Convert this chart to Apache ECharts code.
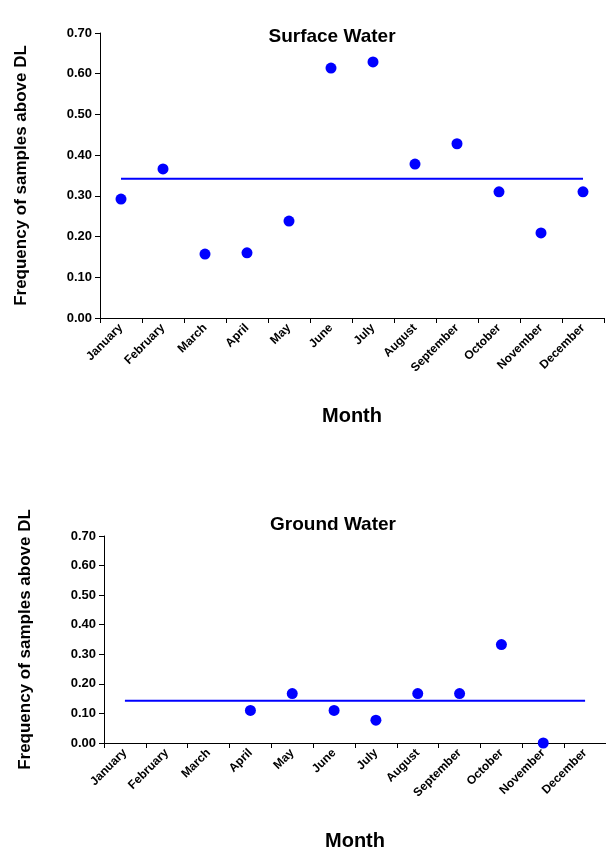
<!DOCTYPE html>
<html><head><meta charset="utf-8">
<script src="https://cdn.jsdelivr.net/npm/echarts@6/dist/echarts.min.js"></script>
<style>html,body{margin:0;padding:0;background:#fff}#c{width:606px;height:852px}</style>
</head><body><div id="c"></div>
<script>
const months = ["January","February","March","April","May","June","July","August","September","October","November","December"];
const surface = [0.292,0.366,0.157,0.160,0.238,0.614,0.629,0.378,0.428,0.310,0.209,0.310];
const surfaceMean = [0.342,0.342,0.342,0.342,0.342,0.342,0.342,0.342,0.342,0.342,0.342,0.342];
const ground = [null,null,null,0.11,0.167,0.11,0.077,0.167,0.167,0.333,0,null];
const groundMean = [0.143,0.143,0.143,0.143,0.143,0.143,0.143,0.143,0.143,0.143,0.143,0.143];
const F = 'Liberation Sans, Arial, sans-serif';
const chart = echarts.init(document.getElementById('c'));
function xa(i){return {type:'category',gridIndex:i,data:months,boundaryGap:true,
  axisLine:{lineStyle:{color:'#000',width:1}},axisTick:{show:true,alignWithLabel:false,lineStyle:{color:'#000'}},
  axisLabel:{rotate:45,interval:0,fontWeight:'bold',fontSize:12,color:'#000',fontFamily:F,margin:8},
  name:'Month',nameLocation:'middle',nameGap:88,nameTextStyle:{fontSize:20,fontWeight:'bold',color:'#000',fontFamily:F}};}
function ya(i){return {type:'value',gridIndex:i,min:0,max:0.7,interval:0.1,splitLine:{show:false},
  axisLine:{show:true,lineStyle:{color:'#000'}},axisTick:{show:true,lineStyle:{color:'#000'}},
  axisLabel:{formatter:v=>v.toFixed(2),fontSize:13,fontWeight:'bold',color:'#000',fontFamily:F},
  name:'Frequency of samples above DL',nameLocation:'middle',nameGap:70,
  nameTextStyle:{fontSize:17,fontWeight:'bold',color:'#000',fontFamily:F}};}
chart.setOption({
  animation:false,
  title:[{text:'Surface Water',left:327,top:22,textAlign:'center',textStyle:{fontSize:19,fontWeight:'bold',color:'#000',fontFamily:F}},
         {text:'Ground Water',left:328,top:510,textAlign:'center',textStyle:{fontSize:19,fontWeight:'bold',color:'#000',fontFamily:F}}],
  grid:[{left:100,width:504,top:33,height:285},{left:104,width:504,top:536,height:209}],
  xAxis:[xa(0),xa(1)],
  yAxis:[ya(0),ya(1)],
  series:[
    {type:'scatter',xAxisIndex:0,yAxisIndex:0,data:surface,symbolSize:11,itemStyle:{color:'#0000ff',opacity:1}},
    {type:'line',xAxisIndex:0,yAxisIndex:0,data:surfaceMean,symbol:'none',lineStyle:{color:'#0000ff',width:2}},
    {type:'scatter',xAxisIndex:1,yAxisIndex:1,data:ground,symbolSize:11,itemStyle:{color:'#0000ff',opacity:1}},
    {type:'line',xAxisIndex:1,yAxisIndex:1,data:groundMean,symbol:'none',lineStyle:{color:'#0000ff',width:2}}
  ]
});
</script></body></html>
